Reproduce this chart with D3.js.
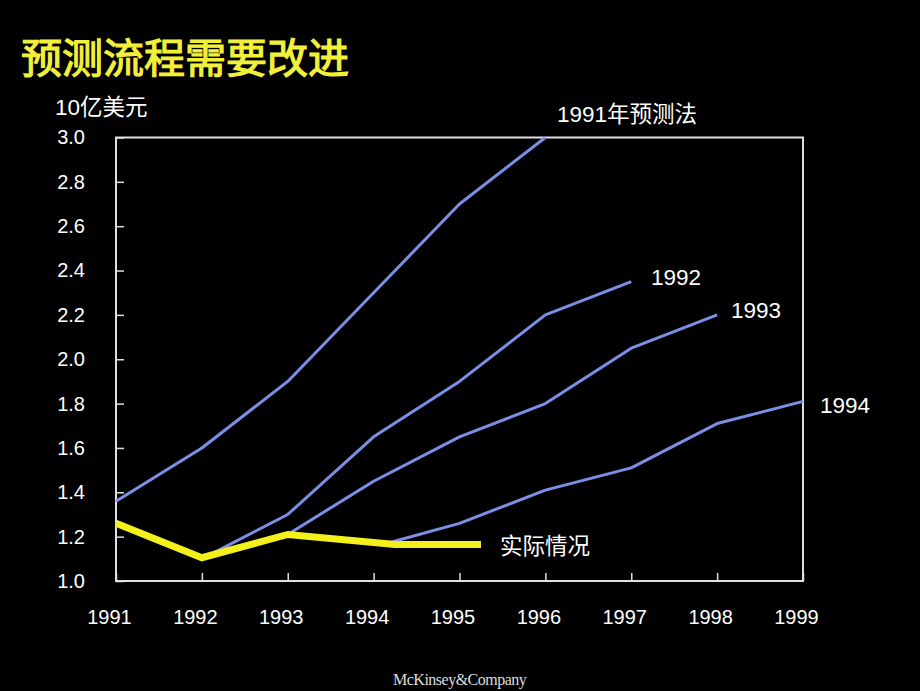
<!DOCTYPE html>
<html><head><meta charset="utf-8">
<script src="https://cdn.jsdelivr.net/npm/d3@7"></script>
<style>html,body{margin:0;padding:0;background:#000;}svg{display:block;}</style>
</head><body>
<svg id="c" width="920" height="691"></svg>
<script>
const years = [1991,1992,1993,1994,1995,1996,1997,1998,1999];
const yTicks = [1.0,1.2,1.4,1.6,1.8,2.0,2.2,2.4,2.6,2.8,3.0];
const f1991x = [1991,1992,1993,1994,1995,1996];
const f1991y = [1.36,1.60,1.90,2.30,2.70,3.00];
const f1992x = [1992,1993,1994,1995,1996,1997];
const f1992y = [1.10,1.30,1.65,1.90,2.20,2.35];
const f1993x = [1993,1994,1995,1996,1997,1998];
const f1993y = [1.21,1.45,1.65,1.80,2.05,2.20];
const f1994x = [1994.2,1995,1996,1997,1998,1999];
const f1994y = [1.175,1.26,1.41,1.51,1.71,1.81];
const actualX = [1991,1992,1993,1994.25,1995.25];
const actualY = [1.26,1.105,1.21,1.165,1.165];
const seriesNames = ["1991年预测法","1992","1993","1994"];
const actualName = "实际情况";

const svg = d3.select("#c");
const x = d3.scaleLinear().domain([1991,1999]).range([116,803]);
const y = d3.scaleLinear().domain([1.0,3.0]).range([581,137.5]);

svg.append("rect").attr("width",920).attr("height",691).attr("fill","#000");

// title
svg.append("text").attr("x",21).attr("y",73).attr("fill","#f2f03a")
  .attr("stroke","#f2f03a").attr("stroke-width",1.2)
  .attr("font-family","'Noto Sans CJK SC'").attr("font-weight","normal")
  .attr("font-size",41).text("预测流程需要改进");

// frame
svg.append("rect").attr("x",116).attr("y",137.5).attr("width",687).attr("height",443.5)
  .attr("fill","none").attr("stroke","#e0e0e0").attr("stroke-width",2);

// y axis
const yAxis = d3.axisLeft(y).tickValues(yTicks).tickSize(-8).tickFormat(d3.format(".1f")).tickPadding(31);
const gy = svg.append("g").attr("transform","translate(116,0)").call(yAxis);
gy.select(".domain").remove();
gy.selectAll(".tick line").attr("stroke","#e0e0e0").attr("stroke-width",1.5);
gy.selectAll(".tick text").attr("fill","#fff").attr("font-family","Arial, 'Liberation Sans'").attr("font-size",20);

// x axis
const xAxis = d3.axisBottom(x).tickValues(years).tickSize(-8).tickFormat(d3.format("d")).tickPadding(29);
const gx = svg.append("g").attr("transform","translate(0,581)").call(xAxis);
gx.select(".domain").remove();
gx.selectAll(".tick line").attr("stroke","#e0e0e0").attr("stroke-width",1.5);
gx.selectAll(".tick text").attr("fill","#fff").attr("font-family","Arial, 'Liberation Sans'").attr("font-size",20).attr("dx",-7);

const line = d3.line().x(d=>x(d[0])).y(d=>y(d[1]));
const fc = [[f1991x,f1991y],[f1992x,f1992y],[f1993x,f1993y],[f1994x,f1994y]];
fc.forEach(([xs,ys])=>{
  svg.append("path").datum(xs.map((v,i)=>[v,ys[i]])).attr("d",line)
    .attr("fill","none").attr("stroke","#7d8ee6").attr("stroke-width",3).attr("stroke-linejoin","round");
});
svg.append("path").datum(actualX.map((v,i)=>[v,actualY[i]])).attr("d",line)
  .attr("fill","none").attr("stroke","#f4f01c").attr("stroke-width",7).attr("stroke-linejoin","miter");

// labels
const lab = (t,xx,yy,fs)=>svg.append("text").attr("x",xx).attr("y",yy).attr("fill","#fff")
  .attr("font-family","Arial, 'Liberation Sans', 'Noto Sans CJK SC'").attr("font-size",fs||22).text(t);
lab("10亿美元",55,115,22.5);
lab(seriesNames[0],557,122,22.5);
lab(seriesNames[1],651,285,22.5);
lab(seriesNames[2],731,318,22.5);
lab(seriesNames[3],820,413,22.5);
lab(actualName,500,554,22.5);

svg.append("text").attr("x",393).attr("y",685).attr("fill","#ddd")
  .attr("font-family","'Liberation Serif', 'DejaVu Serif'").attr("font-size",16)
  .attr("letter-spacing",-0.5).text("McKinsey&Company");
</script>
</body></html>
